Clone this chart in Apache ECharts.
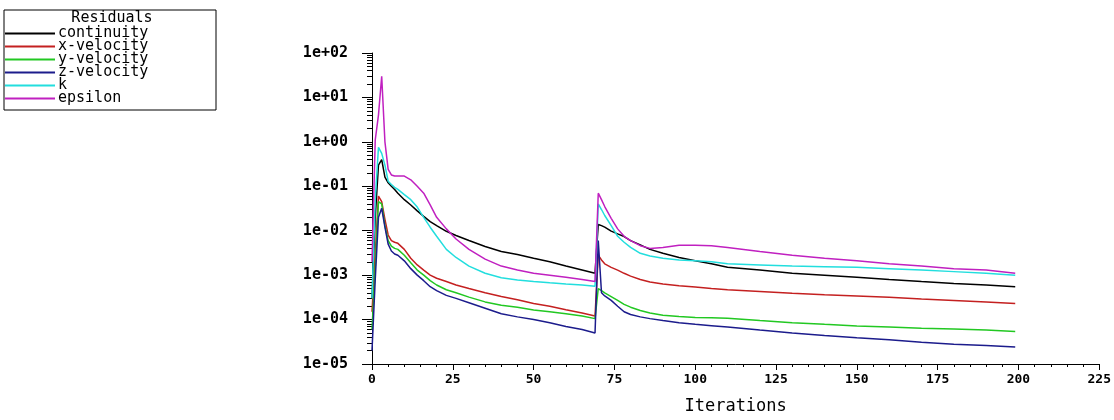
<!DOCTYPE html>
<html><head><meta charset="utf-8">
<script src="https://cdn.jsdelivr.net/npm/echarts@6/dist/echarts.min.js"></script>
<style>html,body{margin:0;padding:0;background:#fff}#c{width:1114px;height:420px}</style>
</head><body><div id="c"></div>
<script>
const iterations=[0,1,2,3,4,5,6,7,8,10,12,14,16,18,20,23,26,30,35,40,45,50,55,60,65,69,70,71,72,74,76,78,80,83,86,90,95,100,105,110,120,130,140,150,160,170,180,190,199];
const continuity=[3e-4,0.02,0.3,0.4,0.16,0.12,0.1,0.085,0.07,0.05,0.038,0.028,0.021,0.016,0.013,0.0097,0.0078,0.006,0.0044,0.0034,0.0029,0.0024,0.002,0.0016,0.0013,0.0011,0.0138,0.013,0.012,0.0098,0.0085,0.0074,0.006,0.0048,0.0038,0.0031,0.0025,0.0021,0.0018,0.0015,0.0013,0.0011,0.001,0.0009,0.0008,0.00072,0.00065,0.0006,0.00055];
const xVelocity=[1.5e-4,0.003,0.06,0.045,0.018,0.008,0.006,0.0055,0.0052,0.0038,0.0024,0.0017,0.0013,0.001,0.00085,0.00072,0.0006,0.0005,0.0004,0.00033,0.00028,0.00023,0.0002,0.000166,0.00014,0.00012,0.0028,0.0022,0.0018,0.0015,0.0013,0.0011,0.00095,0.0008,0.0007,0.00063,0.00058,0.00054,0.0005,0.00047,0.00043,0.00039,0.00036,0.00034,0.00032,0.00029,0.00027,0.00025,0.00023];
const yVelocity=[6e-5,0.0015,0.045,0.04,0.013,0.006,0.0045,0.004,0.0038,0.0028,0.0019,0.0013,0.001,0.00075,0.0006,0.00047,0.0004,0.00032,0.00025,0.00021,0.00019,0.000165,0.00015,0.000135,0.00012,0.000105,0.0005,0.00045,0.0004,0.00033,0.00027,0.00022,0.00019,0.00016,0.00014,0.000125,0.000117,0.000112,0.00011,0.000107,9.5e-5,8.5e-5,7.8e-5,7.2e-5,6.8e-5,6.4e-5,6.1e-5,5.8e-5,5.4e-5];
const zVelocity=[2e-5,0.0008,0.02,0.032,0.012,0.005,0.0035,0.003,0.0028,0.0021,0.0014,0.001,0.00075,0.00055,0.00045,0.00035,0.0003,0.00024,0.00018,0.000135,0.000115,0.0001,8.5e-5,7e-5,6e-5,5e-5,0.006,0.0004,0.00034,0.00027,0.0002,0.00015,0.00013,0.000115,0.000105,9.5e-5,8.5e-5,7.8e-5,7.3e-5,6.8e-5,5.8e-5,5e-5,4.4e-5,3.9e-5,3.5e-5,3.1e-5,2.8e-5,2.6e-5,2.4e-5];
const kResidual=[3e-4,0.05,0.75,0.55,0.3,0.13,0.11,0.095,0.085,0.065,0.05,0.034,0.02,0.012,0.0075,0.0038,0.0025,0.0016,0.0011,0.00087,0.00078,0.00072,0.00067,0.00063,0.0006,0.00056,0.04,0.03,0.022,0.013,0.0075,0.0055,0.0042,0.0031,0.0027,0.0024,0.0022,0.0021,0.002,0.0018,0.0017,0.0016,0.00155,0.0015,0.0014,0.0013,0.0012,0.0011,0.001];
const epsilon=[0.002,1.1,4,30,1.0,0.24,0.18,0.17,0.17,0.17,0.14,0.1,0.07,0.038,0.02,0.011,0.0065,0.0038,0.0023,0.0016,0.0013,0.0011,0.001,0.0009,0.0008,0.00072,0.07,0.05,0.035,0.019,0.011,0.0075,0.006,0.0046,0.004,0.0042,0.0047,0.0047,0.0046,0.0042,0.0034,0.0028,0.0024,0.0021,0.0018,0.0016,0.0014,0.0013,0.0011];

const seriesNames=['continuity','x-velocity','y-velocity','z-velocity','k','epsilon'];
const seriesValues=[continuity,xVelocity,yVelocity,zVelocity,kResidual,epsilon];
const seriesColors=['#000000','#c42020','#22c822','#1c1c8c','#22dede','#c020c0'];
const xTickLabels=['0','25','50','75','100','125','150','175','200','225'];
const yTickLabels=['1e-05','1e-04','1e-03','1e-02','1e-01','1e+00','1e+01','1e+02'];
const legendTitle='Residuals';
const xAxisTitle='Iterations';

const minorTickPos=[];
for(let e=-5;e<2;e++){for(let m=2;m<=9;m++){minorTickPos.push(e+Math.log10(m));}}

const mono='"DejaVu Sans Mono", "Liberation Mono", monospace';
const chart=echarts.init(document.getElementById('c'),null,{renderer:'canvas'});
chart.setOption({
  animation:false,
  backgroundColor:'#ffffff',
  grid:{left:372,right:14,top:53,bottom:56,containLabel:false},
  graphic:[
    {type:'rect',shape:{x:4,y:10,width:212,height:100},style:{fill:'none',stroke:'#000',lineWidth:1},z:1},
    {type:'text',x:112,y:18,style:{text:legendTitle,textAlign:'center',textVerticalAlign:'middle',font:'15px '+mono,fill:'#000'},z:2}
  ],
  legend:{
    show:true,orient:'vertical',left:5,top:26,padding:0,
    itemWidth:50,itemHeight:2,itemGap:-2,icon:'rect',
    textStyle:{fontFamily:mono,fontSize:15,lineHeight:13,color:'#000',padding:[0,0,0,-2]},
    data:seriesNames
  },
  xAxis:{
    type:'value',min:0,max:225,interval:25,
    name:xAxisTitle,nameLocation:'middle',nameGap:34,
    nameTextStyle:{fontFamily:mono,fontSize:17,color:'#000'},
    axisLine:{show:true,onZero:false,lineStyle:{color:'#000',width:1}},
    axisTick:{show:true,length:6,lineStyle:{color:'#000'}},
    minorTick:{show:true,splitNumber:5,length:3,lineStyle:{color:'#000'}},
    splitLine:{show:false},
    axisLabel:{color:'#000',fontFamily:mono,fontWeight:'bold',fontSize:13,margin:9,
      formatter:function(v){return xTickLabels[Math.round(v/25)];}}
  },
  yAxis:[{
    type:'log',logBase:10,min:1e-5,max:100,splitNumber:7,interval:1,
    axisLine:{show:true,onZero:false,lineStyle:{color:'#000',width:1}},
    axisTick:{show:true,length:10,lineStyle:{color:'#000'}},
    splitLine:{show:false},
    axisLabel:{color:'#000',fontFamily:mono,fontWeight:'bold',fontSize:15,margin:24,
      formatter:function(v){const e=Math.round(Math.log10(v));return yTickLabels[e+5]||'';}}
  },{
    type:'value',min:-5,max:2,position:'left',
    axisLine:{show:false,onZero:false},
    axisLabel:{show:false},
    splitLine:{show:false},
    axisTick:{show:true,length:5,lineStyle:{color:'#000'},customValues:minorTickPos}
  }],
  series:seriesNames.map(function(n,i){
    return {name:n,type:'line',yAxisIndex:0,showSymbol:false,symbol:'none',
      lineStyle:{width:1.5,color:seriesColors[i]},itemStyle:{color:seriesColors[i]},
      data:iterations.map(function(x,j){return [x,seriesValues[i][j]];})};
  })
});
</script></body></html>
